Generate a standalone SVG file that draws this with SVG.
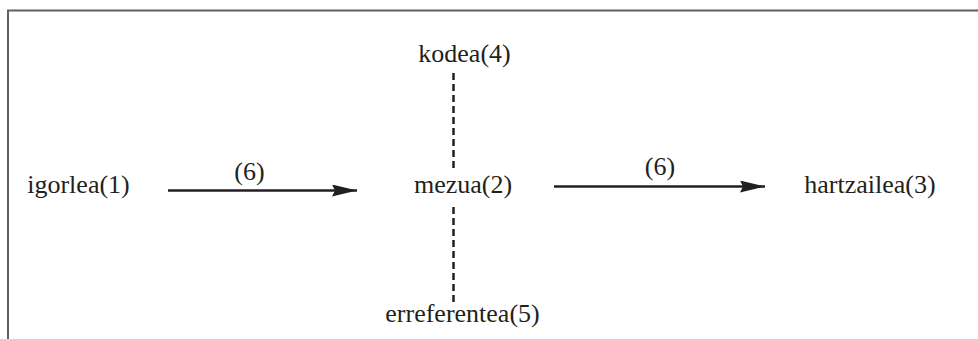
<svg xmlns="http://www.w3.org/2000/svg" width="978" height="339" viewBox="0 0 978 339">
<style>
text{font-family:"Liberation Serif","Times New Roman",serif;font-size:26px;fill:#231f20;text-anchor:middle}
.arrow{stroke:#231f20;stroke-width:2.5;fill:none}
.dash{stroke:#231f20;stroke-width:2.5;stroke-dasharray:7 4;fill:none}
.frame{stroke:#606060;stroke-width:2;fill:none}
</style>
<defs>
<marker id="ah" markerWidth="25" markerHeight="12" refX="25" refY="6" orient="auto" markerUnits="userSpaceOnUse">
<path d="M0,0 L25,6 L0,12 L3,6 Z" fill="#231f20"/>
</marker>
</defs>
<path class="frame" d="M8,339 V10.5 H978"/>
<g id="connectors">
<line class="arrow" x1="168" y1="190.5" x2="357" y2="190.5" marker-end="url(#ah)"/>
<text x="249.5" y="180">(6)</text>
<line class="arrow" x1="554" y1="186.5" x2="765" y2="186.5" marker-end="url(#ah)"/>
<text x="660" y="175">(6)</text>
<line class="dash" x1="453.5" y1="73" x2="453.5" y2="168"/>
<line class="dash" x1="453.5" y1="207" x2="453.5" y2="302"/>
</g>
<g id="n1"><text x="78.5" y="193">igorlea(1)</text></g>
<g id="n2"><text x="463" y="193">mezua(2)</text></g>
<g id="n3"><text x="870" y="193">hartzailea(3)</text></g>
<g id="n4"><text x="464.5" y="62">kodea(4)</text></g>
<g id="n5"><text x="462.5" y="322">erreferentea(5)</text></g>
</svg>
